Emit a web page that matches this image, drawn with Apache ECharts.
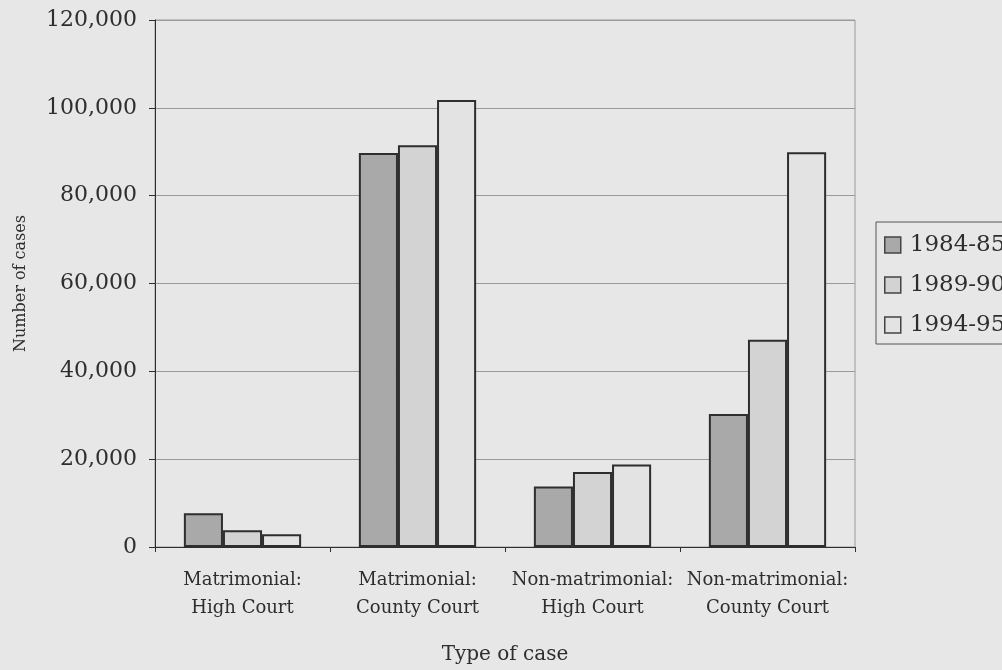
<!DOCTYPE html>
<html>
<head>
<meta charset="utf-8">
<script src="https://cdn.jsdelivr.net/npm/echarts@6/dist/echarts.min.js"></script>
<style>
  html, body { margin: 0; padding: 0; background: #e7e7e7; }
  #chart { width: 1002px; height: 670px; }
</style>
</head>
<body>
<div id="chart"></div>
<script>
// Court cases by type, three periods
const categories = [
  'Matrimonial:\nHigh Court',
  'Matrimonial:\nCounty Court',
  'Non-matrimonial:\nHigh Court',
  'Non-matrimonial:\nCounty Court'
];
const periods = ['1984-85', '1989-90', '1994-95'];
const cases1984 = [7700, 89700, 13800, 30300];
const cases1989 = [3800, 91500, 17100, 47200];
const cases1994 = [2900, 101800, 18800, 89900];
const yTicks = { min: 0, max: 120000, interval: 20000 };

const FONT = '"DejaVu Serif", "Liberation Serif", serif';
const INK = '#2e2e2e';
const fills = ['#a9a9a9', '#d3d3d3', '#e3e3e3'];
const seriesValues = [cases1984, cases1989, cases1994];

const chart = echarts.init(document.getElementById('chart'));
chart.setOption({
  backgroundColor: '#e7e7e7',
  animation: false,
  textStyle: { fontFamily: FONT, color: INK },
  grid: {
    left: 155, right: 147, top: 20, bottom: 123,
    containLabel: false, outerBoundsMode: 'none',
    show: true, borderColor: '#9a9a9a', borderWidth: 1, backgroundColor: 'transparent'
  },
  legend: {
    orient: 'vertical',
    left: 876, top: 222,
    padding: [11, 8, 7, 8],
    itemGap: 16,
    itemWidth: 16, itemHeight: 16,
    icon: 'rect',
    borderColor: '#555', borderWidth: 1,
    itemStyle: { borderWidth: 1.5, borderColor: '#444' },
    textStyle: { fontFamily: FONT, fontSize: 23, lineHeight: 24, color: INK, padding: [0, 0, 0, 4] },
    data: periods
  },
  xAxis: {
    type: 'category',
    data: categories,
    name: 'Type of case',
    nameLocation: 'middle',
    nameGap: 98,
    nameTextStyle: { fontFamily: FONT, fontSize: 20, color: INK },
    axisLine: { lineStyle: { color: INK, width: 1 } },
    axisTick: { show: true, length: 5, lineStyle: { color: INK } },
    axisLabel: { interval: 0, hideOverlap: false, fontFamily: FONT, fontSize: 18, color: INK, margin: 19, lineHeight: 28 }
  },
  yAxis: {
    type: 'value',
    min: yTicks.min, max: yTicks.max, interval: yTicks.interval,
    name: 'Number of cases',
    nameLocation: 'middle',
    nameGap: 126,
    nameTextStyle: { fontFamily: FONT, fontSize: 16, color: INK },
    axisLine: { show: true, lineStyle: { color: INK, width: 1 } },
    axisTick: { show: true, length: 6, lineStyle: { color: INK } },
    splitLine: { lineStyle: { color: '#9a9a9a', width: 1 } },
    axisLabel: {
      fontFamily: FONT, fontSize: 22, color: INK, margin: 18,
      formatter: v => v.toLocaleString('en-US')
    }
  },
  series: periods.map((p, i) => ({
    name: p,
    type: 'bar',
    data: seriesValues[i],
    barGap: '0%',
    barCategoryGap: '33%',
    itemStyle: { color: fills[i], borderColor: INK, borderWidth: 2 }
  }))
});
</script>
</body>
</html>
